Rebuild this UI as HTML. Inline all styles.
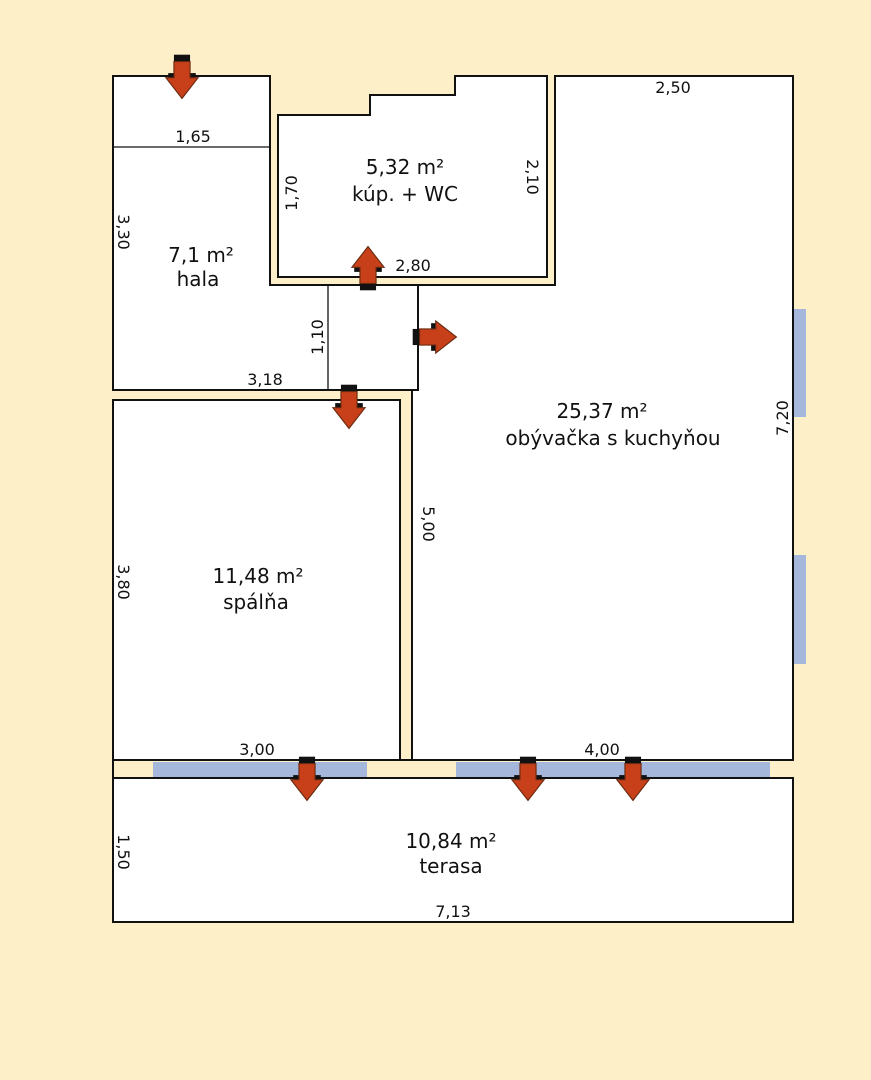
<!DOCTYPE html><html><head><style>body{margin:0;background:#fdf0c9}svg{display:block}text{font-family:"DejaVu Sans","Liberation Sans",sans-serif;fill:#111}</style></head><body>
<svg width="871" height="1080" viewBox="0 0 871 1080">
<defs>
<g id="ad"><rect x="-7" y="-22" width="14" height="6" fill="#111"/><rect x="-12" y="-6" width="24" height="6" fill="#111"/><path d="M-7,-16 H7 V-2 H14 L0,16 L-14,-2 H-7 Z" fill="#c8401a" stroke="#6b2a10" stroke-width="1"/></g>
</defs>
<rect width="871" height="1080" fill="#fdf0c9"/>
<g fill="#fff" stroke="#111" stroke-width="2">
<polygon points="113,76 270,76 270,285 418,285 418,390 113,390"/>
<polygon points="278,115 370,115 370,95 455,95 455,76 547,76 547,277 278,277"/>
<polygon points="555,76 793,76 793,760 412,760 412,390 418,390 418,285 555,285"/>
<rect x="113" y="400" width="287" height="360"/>
<rect x="113" y="778" width="680" height="144"/>
</g>
<g fill="none" stroke="#111" stroke-width="2">
<polyline points="270,285 555,285 555,76"/>
<line x1="113" y1="760" x2="113" y2="778"/>
</g>
<g fill="none" stroke="#111" stroke-width="1.3">
<line x1="113" y1="147" x2="270" y2="147"/>
<line x1="328" y1="285" x2="328" y2="390"/>
</g>
<g fill="#a5b8dc">
<rect x="153" y="762" width="214" height="16"/>
<rect x="456" y="762" width="314" height="16"/>
<rect x="794" y="309" width="12" height="108"/>
<rect x="794" y="555" width="12" height="109"/>
</g>
<line x1="113" y1="778" x2="793" y2="778" stroke="#111" stroke-width="2"/>
<line x1="113" y1="760" x2="793" y2="760" stroke="#111" stroke-width="2"/>
<use href="#ad" transform="translate(182,80) scale(1.15)"/>
<use href="#ad" transform="translate(368,265) rotate(180) scale(1.15)"/>
<use href="#ad" transform="translate(438,337) rotate(-90) scale(1.15)"/>
<use href="#ad" transform="translate(349,410) scale(1.15)"/>
<use href="#ad" transform="translate(307,782) scale(1.15)"/>
<use href="#ad" transform="translate(528,782) scale(1.15)"/>
<use href="#ad" transform="translate(633,782) scale(1.15)"/>
<g font-size="16" text-anchor="middle">
<text x="193" y="142">1,65</text>
<text x="413" y="271">2,80</text>
<text x="265" y="385">3,18</text>
<text x="673" y="93">2,50</text>
<text x="257" y="755">3,00</text>
<text x="602" y="755">4,00</text>
<text x="453" y="917">7,13</text>
<text transform="translate(118,232) rotate(90)">3,30</text>
<text transform="translate(297,193) rotate(-90)">1,70</text>
<text transform="translate(527,177) rotate(90)">2,10</text>
<text transform="translate(323,337) rotate(-90)">1,10</text>
<text transform="translate(788,418) rotate(-90)">7,20</text>
<text transform="translate(423,524) rotate(90)">5,00</text>
<text transform="translate(118,582) rotate(90)">3,80</text>
<text transform="translate(118,852) rotate(90)">1,50</text>
</g>
<g font-size="20" text-anchor="middle">
<text x="405" y="174">5,32 m²</text><text x="405" y="201">kúp. + WC</text>
<text x="201" y="262">7,1 m²</text><text x="198" y="286">hala</text>
<text x="602" y="418">25,37 m²</text><text x="613" y="445">obývačka s kuchyňou</text>
<text x="258" y="583">11,48 m²</text><text x="256" y="609">spálňa</text>
<text x="451" y="848">10,84 m²</text><text x="451" y="873">terasa</text>
</g>
</svg></body></html>
